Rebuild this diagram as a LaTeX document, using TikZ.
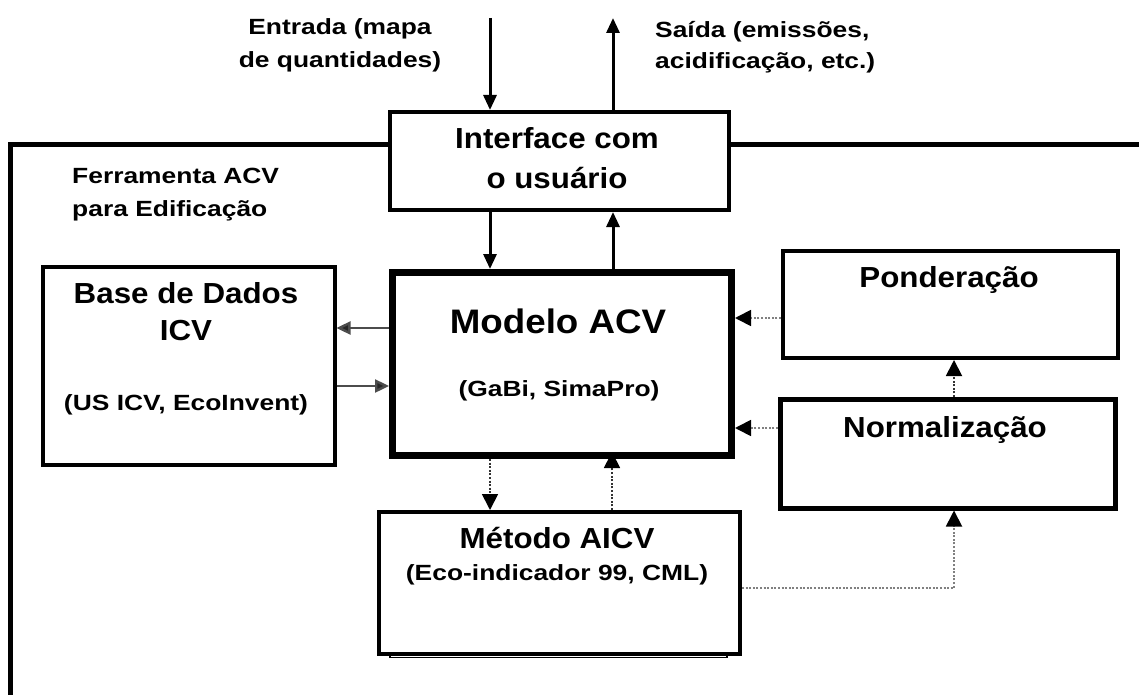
\documentclass[tikz,border=0pt]{standalone}
\usepackage{fontspec}
\setmainfont{Liberation Sans}[FakeStretch=1.2]
\newfontfamily\hfont{Liberation Sans}[FakeStretch=1.08]
\usetikzlibrary{arrows.meta}
\begin{document}
\begin{tikzpicture}[x=1pt,y=-1pt,
  boxst/.style={draw=black, fill=white, rectangle, inner sep=0pt},
  small/.style={inner sep=0pt, font=\fontsize{22}{33}\selectfont\bfseries},
  head/.style={inner sep=0pt, font=\hfont\fontsize{29}{40}\selectfont\bfseries},
  solidarr/.style={line width=3pt, -{Triangle[length=15pt,width=13pt]}},
  greyarr/.style={line width=2.4pt, draw=black!70, -{Triangle[length=14pt,width=13pt,fill=black!85]}},
  dotarr/.style={line width=1.8pt, draw=black!50, dash pattern=on 2pt off 1.6pt, -{Triangle[length=16pt,width=16pt,fill=black,color=black]}},
  dotarrv/.style={dotarr, draw=black!80}
]
\useasboundingbox (0,0) rectangle (1139,695);
\fill[white] (0,0) rectangle (1139,695);

% outer frame
\coordinate (frameBL) at (10,695);
\coordinate (frameTL) at (10,145);
\coordinate (frameTR) at (1139,145);
\draw[line width=5pt] (frameBL) -- (frameTL) -- (frameTR);

% boxes
\node[boxst, line width=4pt, minimum width=339pt, minimum height=98pt, anchor=north west] (iface) at (388,110) {};
\node[boxst, line width=7pt, minimum width=339pt, minimum height=183pt, anchor=north west] (modelo) at (389,269) {};
\node[boxst, line width=3.5pt, minimum width=292pt, minimum height=198pt, anchor=north west] (base) at (41,265) {};
\node[boxst, line width=4pt, minimum width=335pt, minimum height=107pt, anchor=north west] (pond) at (781,249) {};
\node[boxst, line width=4.5pt, minimum width=335pt, minimum height=109pt, anchor=north west] (norm) at (778,397) {};
\draw[line width=1.2pt, fill=white] (390,648) rectangle (727,657.5);
\node[boxst, line width=4pt, minimum width=361pt, minimum height=142pt, anchor=north west] (metodo) at (377,510) {};

% texts
\node[small, anchor=base] (entrada1) at (340,35) {Entrada (mapa};
\node[small, anchor=base] (entrada2) at (340,68) {de quantidades)};
\node[small, anchor=base west] (saida1) at (655,38) {Saída (emissões,};
\node[small, anchor=base west] (saida2) at (655,69) {acidificação, etc.)};
\node[small, anchor=base west] (ferr1) at (72,183) {Ferramenta ACV};
\node[small, anchor=base west] (ferr2) at (72,216) {para Edificação};
\node[head, anchor=base] (iface1) at (557,149) {Interface com};
\node[head, anchor=base] (iface2) at (557,189) {o usuário};
\node[head, anchor=base] (base1) at (186,303) {Base de Dados};
\node[head, anchor=base] (base2) at (186,340) {ICV};
\node[small, anchor=base] (base3) at (186,410) {(US ICV, EcoInvent)};
\node[inner sep=0pt, font=\hfont\fontsize{34}{40}\selectfont\bfseries, anchor=base] (modelo1) at (558,333) {Modelo ACV};
\node[small, anchor=base] (modelo2) at (559,396) {(GaBi, SimaPro)};
\node[head, anchor=base] (pond1) at (949,287) {Ponderação};
\node[head, anchor=base] (norm1) at (945,437) {Normalização};
\node[head, anchor=base] (met1) at (557,548) {Método AICV};
\node[small, anchor=base] (met2) at (557,580) {(Eco-indicador 99, CML)};

% external arrows
\coordinate (inTop) at (490,18);
\coordinate (outTop) at (613,18);
\draw[solidarr] (inTop) -- (inTop |- iface.north);
\draw[solidarr] (outTop |- iface.north) -- (outTop);

% interface <-> modelo
\draw[solidarr] (inTop |- iface.south) -- (inTop |- modelo.north);
\draw[solidarr] (outTop |- modelo.north) -- (outTop |- iface.south);

% base <-> modelo
\coordinate (bm1) at (0,328);
\coordinate (bm2) at (0,386);
\draw[greyarr] (modelo.west |- bm1) -- (base.east |- bm1);
\draw[greyarr] (base.east |- bm2) -- (modelo.west |- bm2);

% dotted connectors
\coordinate (pm) at (0,318);
\coordinate (nm) at (0,428);
\coordinate (vx) at (954,0);
\coordinate (mm) at (0,588);
\draw[dotarr] (pond.west |- pm) -- (modelo.east |- pm);
\draw[dotarr] (norm.west |- nm) -- (modelo.east |- nm);
\draw[dotarrv] (vx |- norm.north) -- (vx |- pond.south);
\draw[dotarrv] (inTop |- modelo.south) -- (inTop |- metodo.north);
\draw[dotarrv] (612,510) -- (612,452);
\draw[dotarr] (metodo.east |- mm) -| (vx |- norm.south);
\end{tikzpicture}
\end{document}
